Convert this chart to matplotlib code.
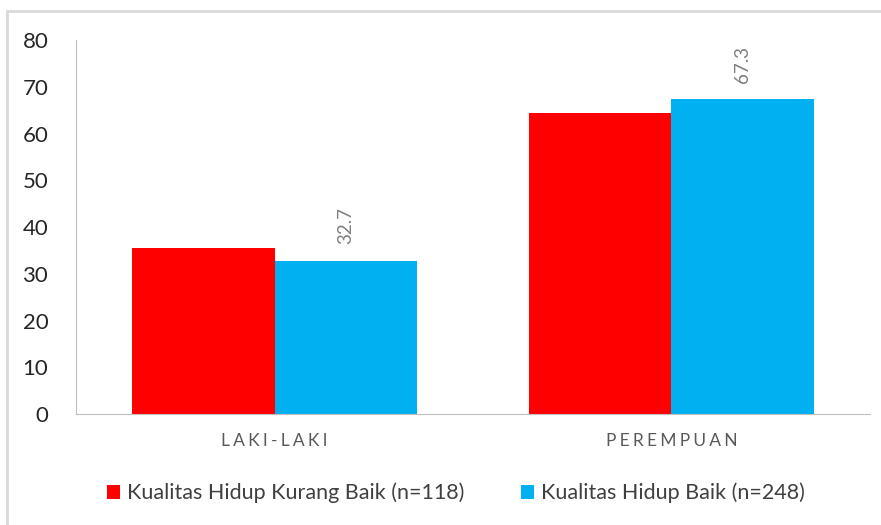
import matplotlib
matplotlib.use("Agg")
import matplotlib.pyplot as plt
from matplotlib.patches import Rectangle
import numpy as np

categories = ["LAKI-LAKI", "PEREMPUAN"]
kurang_baik = [35.6, 64.4]
baik = [32.7, 67.3]
series_labels = ["Kualitas Hidup Kurang Baik (n=118)", "Kualitas Hidup Baik (n=248)"]
yticks = [0, 10, 20, 30, 40, 50, 60, 70, 80]

plt.rcParams["font.family"] = ["Lato", "DejaVu Sans"]


def spaced(text):
    # imitate the wide letter spacing of the category axis
    return "\u2009\u200a".join(text)


fig = plt.figure(figsize=(8.81, 5.25), dpi=100)
ax = fig.add_axes([0.0863, 0.2114, 0.9012, 0.7124])

# outer chart border (only top/left visible in reference)
fig.patches.append(Rectangle((7 / 881, -0.05), 1.2, 1 - 11 / 525 + 0.05,
                             transform=fig.transFigure, fill=False,
                             edgecolor="#d9d9d9", linewidth=2))

x = np.arange(len(categories))
w = 0.36
ax.bar(x - w / 2, kurang_baik, w, color="#ff0000", label=series_labels[0])
bars = ax.bar(x + w / 2, baik, w, color="#00b0f0", label=series_labels[1])

for b, v in zip(bars, baik):
    ax.annotate(f"{v:.1f}", (b.get_x() + b.get_width() / 2, v),
                xytext=(0, 12), textcoords="offset points",
                rotation=90, ha="center", va="bottom",
                fontsize=13.5, color="#7f7f7f")

ax.set_xlim(-0.5, 1.5)
ax.set_ylim(0, 80)
ax.set_yticks(yticks)
ax.tick_params(axis="y", length=0, labelsize=16, pad=20, labelcolor="#262626")
ax.set_xticks(x)
ax.set_xticklabels([spaced(c) for c in categories])
ax.tick_params(axis="x", length=0, labelsize=12.5, pad=14, labelcolor="#595959")

for s in ("top", "right"):
    ax.spines[s].set_visible(False)
ax.spines["left"].set_color("#bfbfbf")
ax.spines["bottom"].set_color("#bfbfbf")

fig.legend(loc="center", bbox_to_anchor=(456 / 881, 1 - 493 / 525), ncol=2,
           frameon=False, fontsize=15.5, handlelength=0.6, handleheight=0.6,
           handletextpad=0.35, columnspacing=2.6, labelcolor="#404040")

fig.savefig("out.png", dpi=100)
